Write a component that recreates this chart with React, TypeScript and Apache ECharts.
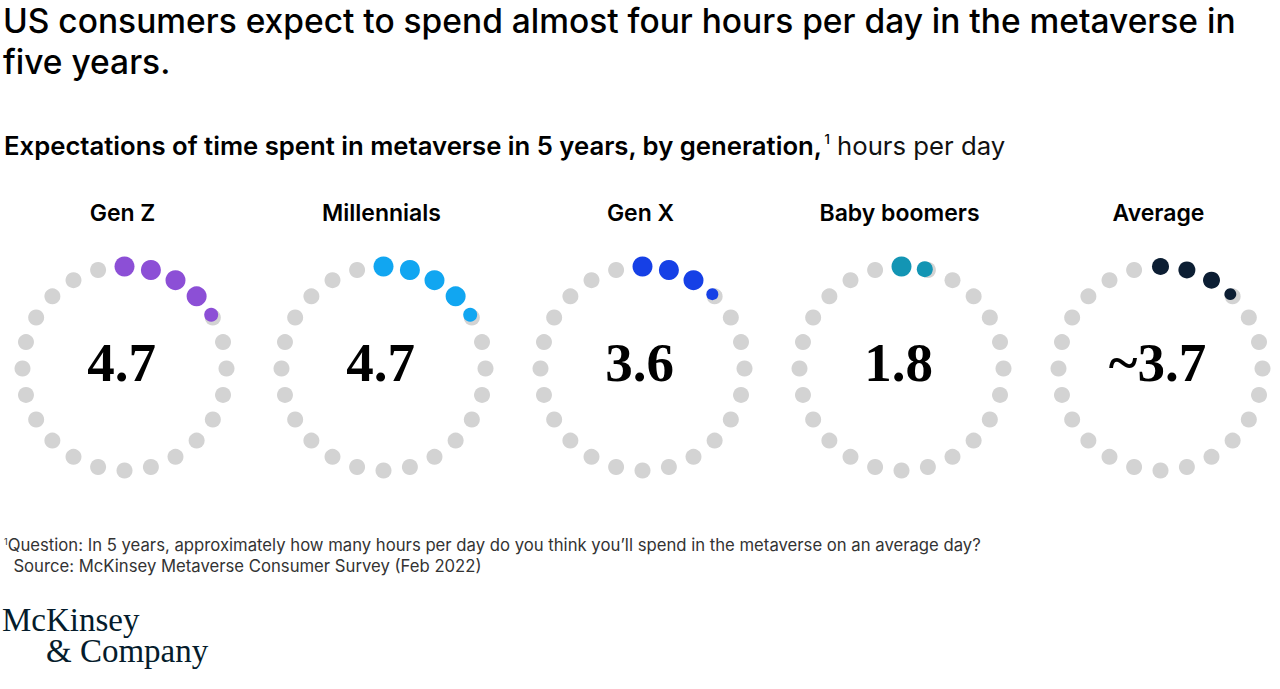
import React, { useEffect, useRef } from "react";
import * as echarts from "echarts";

const categories = ["Gen Z", "Millennials", "Gen X", "Baby boomers", "Average"];
const values = [4.7, 4.7, 3.6, 1.8, 3.7];
const valueLabels = ["4.7", "4.7", "3.6", "1.8", "~3.7"];
const hourSlots = [0, 1, 2, 3, 4, 5, 6, 7, 8, 9, 10, 11, 12, 13, 14, 15, 16, 17, 18, 19, 20, 21, 22, 23];
const colors = ["#8c4fd6", "#11a6f1", "#1640e6", "#1395b4", "#0c1e33"];
const fullSizes = [20, 20, 20, 20, 17];

const centersX = [124.5, 383.5, 642.5, 901.5, 1160.5];
const centerY = 368.5;
const ringRadius = 102;

export default function App() {
  const ref = useRef<HTMLDivElement>(null);
  useEffect(() => {
    document.body.style.margin = "0";
    const chart = echarts.init(ref.current!, null, { renderer: "svg" });
    const polar = categories.map((_, i) => ({ center: [centersX[i], centerY], radius: ringRadius }));
    const angleAxis = categories.map((_, i) => ({
      polarIndex: i,
      type: "value",
      min: 0,
      max: 24,
      startAngle: 90,
      clockwise: true,
      axisLine: { show: false },
      axisTick: { show: false },
      axisLabel: { show: false },
      splitLine: { show: false },
    }));
    const radiusAxis = categories.map((_, i) => ({
      polarIndex: i,
      type: "value",
      min: 0,
      max: 1,
      axisLine: { show: false },
      axisTick: { show: false },
      axisLabel: { show: false },
      splitLine: { show: false },
    }));
    const series: any[] = [];
    categories.forEach((_, i) => {
      series.push({
        type: "scatter",
        coordinateSystem: "polar",
        polarIndex: i,
        silent: true,
        symbolSize: 16,
        itemStyle: { color: "#d3d3d3", opacity: 1 },
        data: hourSlots.map((h) => [1, h]),
      });
      const v = values[i];
      const full = Math.floor(v);
      const frac = v - full;
      const pts: any[] = [];
      for (const h of hourSlots) {
        if (h < full) pts.push({ value: [1, h], symbolSize: fullSizes[i] });
        else if (h === full && frac > 0.001) pts.push({ value: [1, h - 0.12], symbolSize: fullSizes[i] * frac });
      }
      series.push({
        type: "scatter",
        coordinateSystem: "polar",
        polarIndex: i,
        silent: true,
        itemStyle: { color: colors[i], opacity: 1 },
        data: pts,
        z: 3,
      });
    });

    const sans = 'Inter, "Noto Sans", sans-serif';
    const graphic: any[] = [
      {
        type: "text",
        left: 3,
        top: 0,
        style: {
          text: "US consumers expect to spend almost four hours per day in the metaverse in\nfive years.",
          font: `500 33.5px ${sans}`,
          fill: "#000",
          lineHeight: 41,
        },
      },
      {
        type: "text",
        left: 4,
        top: 132,
        style: {
          text: "{b|Expectations of time spent in metaverse in 5 years, by generation,}{s|1}{r| hours per day}",
          rich: {
            b: { font: `600 25.7px ${sans}`, fill: "#000", lineHeight: 34 },
            s: { font: `500 13px ${sans}`, fill: "#000", padding: [0, 0, 12, 2] },
            r: { font: `400 25.7px ${sans}`, fill: "#111", lineHeight: 34 },
          },
        },
      },
      {
        type: "text",
        left: 4,
        top: 536,
        style: {
          text: "{s|1}{r|Question: In 5 years, approximately how many hours per day do you think you’ll spend in the metaverse on an average day?}\n{r|  Source: McKinsey Metaverse Consumer Survey (Feb 2022)}",
          rich: {
            s: { font: `400 9px ${sans}`, fill: "#333", padding: [0, 0, 7, 0] },
            r: { font: `400 16.7px ${sans}`, fill: "#333", lineHeight: 21 },
          },
        },
      },
      {
        type: "text",
        left: 2,
        top: 603,
        style: {
          text: "McKinsey",
          font: '33px "Liberation Serif", serif',
          fill: "#051c2c",
        },
      },
      {
        type: "text",
        left: 46,
        top: 634,
        style: {
          text: "& Company",
          font: '33px "Liberation Serif", serif',
          fill: "#051c2c",
        },
      },
    ];
    categories.forEach((c, i) => {
      graphic.push({
        type: "text",
        x: centersX[i] - 2,
        y: 213,
        style: {
          text: c,
          font: `600 23px ${sans}`,
          fill: "#000",
          align: "center",
          verticalAlign: "middle",
        },
      });
      graphic.push({
        type: "text",
        x: centersX[i] - 3,
        y: 362,
        style: {
          text: valueLabels[i],
          font: 'bold 55px "Liberation Serif", serif',
          fill: "#000",
          align: "center",
          verticalAlign: "middle",
        },
      });
    });

    chart.setOption({
      animation: false,
      backgroundColor: "#fff",
      polar,
      angleAxis,
      radiusAxis,
      series,
      graphic,
    });
    return () => chart.dispose();
  }, []);
  return <div ref={ref} style={{ width: 1280, height: 689 }} />;
}
